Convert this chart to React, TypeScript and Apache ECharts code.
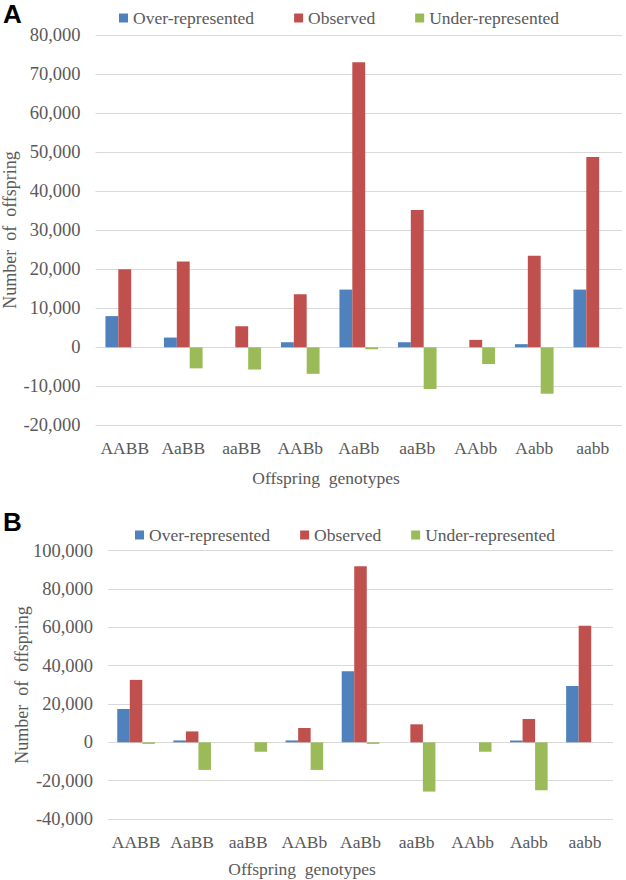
import React, { useEffect, useRef } from "react";
import * as echarts from "echarts";

const categories = ["AABB", "AaBB", "aaBB", "AABb", "AaBb", "aaBb", "AAbb", "Aabb", "aabb"];
const seriesNames = ["Over-represented", "Observed", "Under-represented"];

// Panel A
const overA = [8000, 2500, 0, 1300, 14800, 1300, 0, 800, 14800];
const observedA = [20000, 22000, 5400, 13600, 73100, 35200, 1900, 23500, 48800];
const underA = [0, -5400, -5700, -6800, -500, -10700, -4300, -11900, 0];

// Panel B
const overB = [17400, 1000, 0, 1000, 37100, 0, 0, 1000, 29400];
const observedB = [32600, 5700, 0, 7500, 91900, 9400, 0, 12200, 60900];
const underB = [-800, -14400, -4900, -14400, -800, -25700, -4900, -25000, 0];

const yMinA = -20000, yMaxA = 80000, yStepA = 10000;
const yMinB = -40000, yMaxB = 100000, yStepB = 20000;

const colors = ["#4F81BD", "#C0504D", "#9BBB59"];
const FONT = "'Liberation Serif', 'Times New Roman', serif";
const TXT = "#595959";

export default function App() {
  const ref = useRef<HTMLDivElement>(null);
  useEffect(() => {
    document.body.style.margin = "0";
    const chart = echarts.init(ref.current!, null, { renderer: "svg" });
    const fmt = (v: number) => v.toLocaleString("en-US");
    const xAxisBase = (gridIndex: number) => ({
      type: "category",
      gridIndex,
      data: categories,
      axisLine: { show: false },
      axisTick: { show: false },
      axisLabel: { color: TXT, fontFamily: FONT, fontSize: 17.5, margin: 14, interval: 0 },
    });
    const yAxisBase = (gridIndex: number, min: number, max: number, interval: number) => ({
      type: "value",
      gridIndex,
      min,
      max,
      interval,
      axisLine: { show: false },
      axisTick: { show: false },
      splitLine: { lineStyle: { color: "#D9D9D9", width: 1 } },
      axisLabel: { color: TXT, fontFamily: FONT, fontSize: 18.5, margin: 15, formatter: fmt },
    });
    const mk = (name: string, data: number[], idx: number, color: string, gap: string) => ({
      name,
      type: "bar",
      xAxisIndex: idx,
      yAxisIndex: idx,
      data,
      barGap: "0%",
      barCategoryGap: gap,
      itemStyle: { color },
    });
    const legendBase = {
      icon: "rect",
      itemWidth: 9,
      itemHeight: 9,
      data: seriesNames,
      textStyle: { color: TXT, fontFamily: FONT, fontSize: 17.5 },
      selectedMode: false,
    };
    const textStyle = (text: string, size: number) => ({
      text,
      fill: TXT,
      font: `${size}px ${FONT}`,
      textAlign: "center",
      textVerticalAlign: "middle",
    });
    chart.setOption({
      animation: false,
      color: colors,
      grid: [
        { left: 95.5, right: 4, top: 35.3, height: 390 },
        { left: 108, right: 13, top: 550.7, height: 268.3 },
      ],
      legend: [
        { ...legendBase, left: 114, top: 4, itemGap: 40 },
        { ...legendBase, left: 130, top: 521, itemGap: 30 },
      ],
      xAxis: [xAxisBase(0), xAxisBase(1)],
      yAxis: [yAxisBase(0, yMinA, yMaxA, yStepA), yAxisBase(1, yMinB, yMaxB, yStepB)],
      series: [
        mk(seriesNames[0], overA, 0, colors[0], "34%"),
        mk(seriesNames[1], observedA, 0, colors[1], "34%"),
        mk(seriesNames[2], underA, 0, colors[2], "34%"),
        mk(seriesNames[0], overB, 1, colors[0], "33%"),
        mk(seriesNames[1], observedB, 1, colors[1], "33%"),
        mk(seriesNames[2], underB, 1, colors[2], "33%"),
      ],
      graphic: [
        { type: "text", left: 3, top: 1, style: { text: "A", fill: "#000", font: "bold 26px 'Liberation Sans', Arial, sans-serif" } },
        { type: "text", left: 3, top: 509, style: { text: "B", fill: "#000", font: "bold 26px 'Liberation Sans', Arial, sans-serif" } },
        { type: "text", x: 10, y: 230, rotation: Math.PI / 2, style: textStyle("Number  of  offspring", 18) },
        { type: "text", x: 22, y: 685, rotation: Math.PI / 2, style: textStyle("Number  of  offspring", 18) },
        { type: "text", x: 326, y: 478, style: textStyle("Offspring  genotypes", 17.5) },
        { type: "text", x: 302, y: 869, style: textStyle("Offspring  genotypes", 17.5) },
      ],
    });
    return () => chart.dispose();
  }, []);
  return <div ref={ref} style={{ width: 626, height: 880 }} />;
}
